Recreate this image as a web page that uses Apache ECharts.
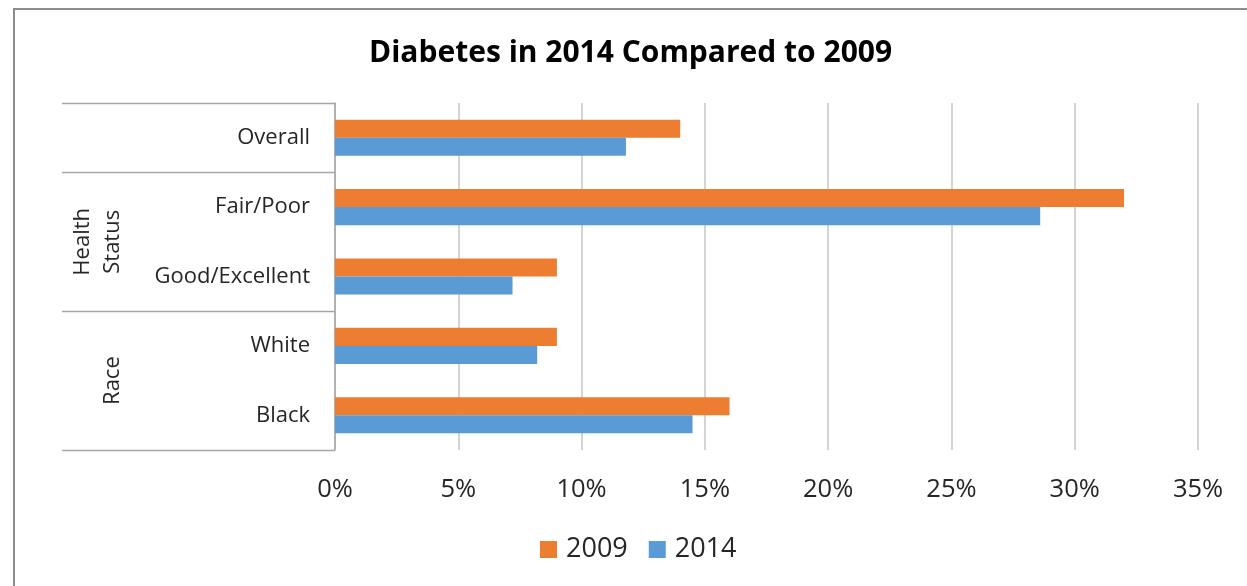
<!DOCTYPE html>
<html>
<head>
<meta charset="utf-8">
<script src="https://cdn.jsdelivr.net/npm/echarts@6/dist/echarts.min.js"></script>
<style>
  html, body { margin: 0; padding: 0; background: #fff; }
  #main { width: 1247px; height: 586px; }
</style>
</head>
<body>
<div id="main"></div>
<script>
// data (percent)
var categories = ['Overall', 'Fair/Poor', 'Good/Excellent', 'White', 'Black'];
var values2009 = [14.0, 32.0, 9.0, 9.0, 16.0];
var values2014 = [11.8, 28.6, 7.2, 8.2, 14.5];
var seriesNames = ['2009', '2014'];
// outer level of the category axis
var groupNames = ['', 'Health\nStatus', 'Race'];
var groupSpans = [[0, 0], [1, 2], [3, 4]];

var FONT = '"Open Sans", "Noto Sans", sans-serif';
var TEXT = '#262626';

var chart = echarts.init(document.getElementById('main'));

var option = {
  animation: false,
  backgroundColor: '#fff',
  title: {
    text: 'Diabetes in 2014 Compared to 2009',
    left: 364,
    top: 33,
    textStyle: { fontFamily: FONT, fontSize: 30, fontWeight: 'bold', color: '#000' }
  },
  legend: {
    bottom: 18,
    left: 535,
    itemWidth: 17,
    itemHeight: 17,
    itemGap: 21,
    icon: 'rect',
    data: seriesNames,
    textStyle: { fontFamily: FONT, fontSize: 27, color: TEXT, padding: [0, 0, 0, 4] }
  },
  grid: { left: 335, top: 103, width: 863, height: 347, containLabel: false },
  xAxis: {
    type: 'value',
    min: 0,
    max: 35,
    interval: 5,
    axisLine: { show: false },
    axisTick: { show: false },
    splitLine: { lineStyle: { color: '#d4d4d4', width: 2 } },
    axisLabel: {
      formatter: '{value}%',
      margin: 27,
      fontFamily: FONT,
      fontSize: 25.5,
      color: TEXT
    }
  },
  yAxis: {
    type: 'category',
    inverse: true,
    data: categories,
    axisLine: { lineStyle: { color: '#a6a6a6', width: 1.5 } },
    axisTick: { show: false },
    axisLabel: { margin: 25, fontFamily: FONT, fontSize: 22, color: TEXT }
  },
  series: [
    {
      name: seriesNames[0],
      type: 'bar',
      data: values2009,
      barGap: '0%',
      barCategoryGap: '48%',
      itemStyle: { color: '#ed7d31' }
    },
    {
      name: seriesNames[1],
      type: 'bar',
      data: values2014,
      itemStyle: { color: '#5b9bd5' }
    }
  ]
};

chart.setOption(option);

// draw the outer category level and the frame using the axis scale
function drawGroups() {
  var c0 = chart.convertToPixel({ yAxisIndex: 0 }, categories[0]);
  var c1 = chart.convertToPixel({ yAxisIndex: 0 }, categories[1]);
  var band = c1 - c0;
  var axisX = chart.convertToPixel({ xAxisIndex: 0 }, 0);
  var leftX = 62;
  var elements = [{
    type: 'rect',
    shape: { x: 14, y: 9, width: 1400, height: 800 },
    style: { fill: null, stroke: '#8c8c8c', lineWidth: 2 },
    silent: true
  }];
  var edges = {};
  groupSpans.forEach(function (span, i) {
    var top = chart.convertToPixel({ yAxisIndex: 0 }, categories[span[0]]) - band / 2;
    var bottom = chart.convertToPixel({ yAxisIndex: 0 }, categories[span[1]]) + band / 2;
    edges[Math.round(top)] = top;
    edges[Math.round(bottom)] = bottom;
    if (groupNames[i]) {
      elements.push({
        type: 'text',
        x: 128,
        y: (top + bottom) / 2,
        rotation: Math.PI / 2,
        style: {
          text: groupNames[i],
          fontFamily: FONT,
          fontSize: 22,
          lineHeight: 30,
          fill: TEXT,
          align: 'center',
          verticalAlign: 'bottom'
        },
        silent: true
      });
    }
  });
  Object.keys(edges).forEach(function (k) {
    var y = Math.round(edges[k]) + 0.5;
    elements.push({
      type: 'line',
      shape: { x1: leftX, y1: y, x2: axisX, y2: y },
      style: { stroke: '#a6a6a6', lineWidth: 1.5 },
      silent: true
    });
  });
  chart.setOption({ graphic: elements });
}
drawGroups();
</script>
</body>
</html>
